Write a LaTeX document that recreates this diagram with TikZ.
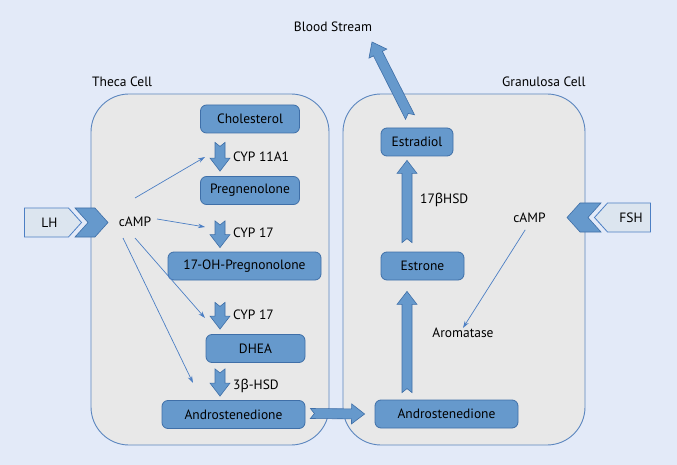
\documentclass[tikz,border=0pt]{standalone}
\usepackage{fontspec}
\setmainfont{PT Sans}
\newfontfamily\grk{Noto Sans}
\usetikzlibrary{calc,arrows.meta,shapes.symbols}
\definecolor{bgc}{HTML}{E3EAF8}
\definecolor{cellfill}{HTML}{E8E8E8}
\definecolor{celldraw}{HTML}{5B86BF}
\definecolor{boxfill}{HTML}{6699CC}
\definecolor{boxdraw}{HTML}{3F6FA8}
\definecolor{hormfill}{HTML}{DCE5EF}
\definecolor{thinc}{HTML}{4C7FC4}
\newcommand\blockarr[2]{%
  \coordinate (ba-s) at (#1);
  \coordinate (ba-e) at (#2);
  \coordinate (ba-h) at ($(ba-e)!13pt!(ba-s)$);
  \draw[blockarrow] ($(ba-s)!5pt!90:(ba-e)$) -- ($(ba-h)!5pt!90:(ba-e)$)
    -- ($(ba-h)!10pt!90:(ba-e)$) -- (ba-e) -- ($(ba-h)!10pt!-90:(ba-e)$)
    -- ($(ba-h)!5pt!-90:(ba-e)$) -- ($(ba-s)!5pt!-90:(ba-e)$)
    -- ($(ba-s)!4pt!(ba-e)$) -- cycle;}
\begin{document}
\begin{tikzpicture}[x=1pt,y=-1pt,
  font=\fontsize{13.5}{15}\selectfont,
  cellbox/.style={draw=celldraw,fill=cellfill,line width=0.9pt,rounded corners=38pt},
  stepbox/.style={draw=boxdraw,fill=boxfill,line width=0.8pt,rounded corners=6pt,
    minimum height=28pt,inner sep=0pt},
  blockarrow/.style={draw=boxdraw,fill=boxfill,line width=0.6pt,line join=miter},
  hormone/.style={signal,draw=thinc,fill=hormfill,line width=0.8pt,
    minimum height=29pt,inner sep=0pt,signal pointer angle=96},
  chev/.style={signal,signal from=west,signal to=east,draw=boxdraw,fill=boxfill,
    line width=0.6pt,minimum height=29pt,inner sep=0pt,signal pointer angle=96},
  chevR/.style={signal,signal from=east,signal to=west,draw=boxdraw,fill=boxfill,
    line width=0.6pt,minimum height=29pt,inner sep=0pt,signal pointer angle=96},
  thinarr/.style={draw=thinc,line width=0.7pt,-{Stealth[length=7pt,width=4.5pt]}},
  lbl/.style={inner sep=0pt,anchor=west}]
\useasboundingbox (0,0) rectangle (677,465);
\fill[bgc] (0,0) rectangle (677,465);
% cells
\draw[cellbox] (91,94) rectangle (329,445);
\draw[cellbox] (343,94) rectangle (585,445);
\node[lbl] (thecalbl) at (92,82) {Theca Cell};
\node[lbl] (granlbl) at (502,82) {Granulosa Cell};
\node[inner sep=0pt] (blood) at (333,27) {Blood Stream};
% theca boxes
\node[stepbox,minimum width=99pt] (chol) at (250,119) {Cholesterol};
\node[stepbox,minimum width=99pt] (preg) at (250,190.5) {Pregnenolone};
\node[stepbox,minimum width=153pt] (ohp) at (244.5,266) {17-OH-Pregnonolone};
\node[stepbox,minimum width=99pt] (dhea) at (255.5,348.5) {DHEA};
\node[stepbox,minimum width=143pt] (andL) at (233.5,414.5) {Androstenedione};
% granulosa boxes
\node[stepbox,minimum width=72pt] (estd) at (417,142) {Estradiol};
\node[stepbox,minimum width=83pt] (estn) at (422.5,266) {Estrone};
\node[stepbox,minimum width=143pt] (andR) at (446.5,414) {Androstenedione};
% enzyme labels
\node[lbl] (cyp1) at (233,157) {CYP 11A1};
\node[lbl] (cyp2) at (233,233) {CYP 17};
\node[lbl] (cyp3) at (233,315) {CYP 17};
\node[lbl] (hsd3) at (233,386) {3{\grk β}-HSD};
\node[lbl] (hsd17) at (420,200) {17{\grk β}HSD};
\node[inner sep=0pt] (arom) at (463,333) {Aromatase};
\node[inner sep=0pt] (campL) at (135,222) {cAMP};
\node[inner sep=0pt] (campR) at (529.5,218) {cAMP};
% hormones
\node[hormone,signal to=east,minimum width=57pt] (lh) at (46.5,222.5) {\hspace*{6pt}LH};
\node[chev,minimum width=33pt] (chevL) at (91.5,222.5) {};
\node[hormone,signal to=west,minimum width=56pt] (fsh) at (629,217.5) {\hspace*{4pt}FSH};
\node[chevR,minimum width=34pt] (chevF) at (584,217.5) {};
% block arrows theca
\coordinate (ax) at (220,0);
\coordinate (a1s) at ($(chol.south -| ax)+(0,9)$);
\coordinate (a1e) at ($(preg.north -| ax)+(0,-5)$);
\coordinate (a2s) at ($(preg.south -| ax)+(0,16)$);
\coordinate (a2e) at ($(ohp.north -| ax)+(0,-4)$);
\coordinate (a3s) at ($(ohp.south -| ax)+(0,22)$);
\coordinate (a3e) at ($(dhea.north -| ax)+(0,-5)$);
\coordinate (a4s) at ($(dhea.south -| ax)+(0,6)$);
\coordinate (a4e) at ($(andL.north -| ax)+(0,-4)$);
\blockarr{a1s}{a1e}
\blockarr{a2s}{a2e}
\blockarr{a3s}{a3e}
\blockarr{a4s}{a4e}
% block arrows granulosa
\coordinate (bx) at (407,0);
\coordinate (b1s) at ($(estn.north -| bx)+(0,-9)$);
\coordinate (b1e) at ($(estd.south -| bx)+(0,4)$);
\coordinate (b2s) at ($(andR.north -| bx)+(0,-7)$);
\coordinate (b2e) at ($(estn.south -| bx)+(0,11)$);
\blockarr{b1s}{b1e}
\blockarr{b2s}{b2e}
\coordinate (cs) at ($(andL.east)+(5,-1)$);
\coordinate (ce) at ($(andR.west)+(-10,0)$);
\blockarr{cs}{ce}
\coordinate (ds) at (410,117);
\coordinate (de) at (372,42);
\blockarr{ds}{de}
% thin arrows
\coordinate (t1) at (205,157);
\coordinate (t2) at (205,227);
\coordinate (t3) at (205,318);
\coordinate (t4) at (193,383);
\draw[thinarr] ($(campL)+(0,-24)$) -- (t1);
\draw[thinarr] ($(campL)+(22,-3)$) -- (t2);
\draw[thinarr] ($(campL)+(0,16)$) -- (t3);
\draw[thinarr] ($(campL)+(-12,16)$) -- (t4);
\draw[thinarr,shorten <=8pt] (campR.south) -- (arom.north);
\end{tikzpicture}
\end{document}
